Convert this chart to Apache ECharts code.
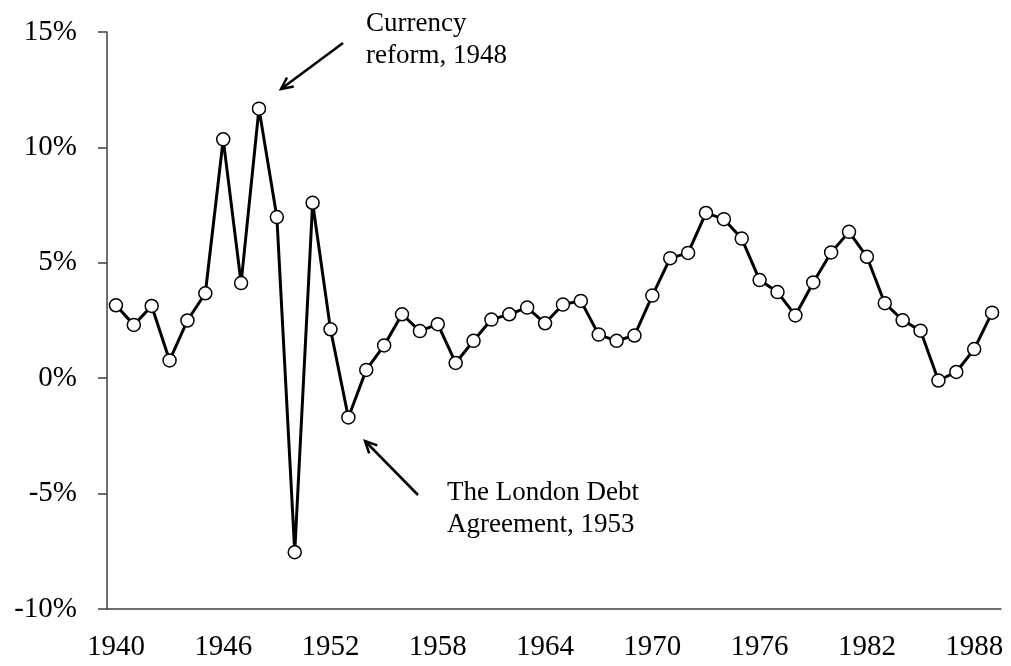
<!DOCTYPE html>
<html>
<head>
<meta charset="utf-8">
<script src="https://cdn.jsdelivr.net/npm/echarts@6/dist/echarts.min.js"></script>
<style>
  html, body { margin: 0; padding: 0; background: #fff; }
  #chart { width: 1011px; height: 666px; }
</style>
</head>
<body>
<div id="chart"></div>
<script>
// years on the category axis
const years = [];
for (let y = 1940; y <= 1989; y++) years.push(String(y));

// growth rate in %
const growth = [
  3.16, 2.31, 3.13, 0.77, 2.50, 3.68, 10.35, 4.12, 11.68, 6.98,
  -7.54, 7.60, 2.12, -1.70, 0.36, 1.42, 2.77, 2.04, 2.34, 0.66,
  1.62, 2.54, 2.77, 3.06, 2.38, 3.19, 3.35, 1.89, 1.62, 1.85,
  3.58, 5.20, 5.43, 7.16, 6.89, 6.05, 4.25, 3.73, 2.72, 4.15,
  5.45, 6.34, 5.26, 3.25, 2.51, 2.06, -0.10, 0.27, 1.26, 2.84
];

const yTicks = { min: -10, max: 15, step: 5 };

const noteReform = "Currency\nreform, 1948";
const noteLondon = "The London Debt\nAgreement, 1953";

const font = "'Liberation Serif', 'Times New Roman', serif";

// arrow = line + two short wings at the head
function arrow(x1, y1, x2, y2) {
  const ang = Math.atan2(y2 - y1, x2 - x1);
  const len = 13, spread = 0.45;
  const p1 = [x2 - len * Math.cos(ang - spread), y2 - len * Math.sin(ang - spread)];
  const p2 = [x2 - len * Math.cos(ang + spread), y2 - len * Math.sin(ang + spread)];
  const st = { stroke: "#000", lineWidth: 2.5 };
  return [
    { type: "line", shape: { x1: x1, y1: y1, x2: x2, y2: y2 }, style: st },
    { type: "polyline", shape: { points: [p1, [x2, y2], p2] }, style: st }
  ];
}

const chart = echarts.init(document.getElementById("chart"));

const option = {
  animation: false,
  grid: { left: 107, right: 10, top: 32, bottom: 57 },
  xAxis: {
    type: "category",
    data: years,
    boundaryGap: true,
    axisLine: { onZero: false, lineStyle: { color: "#404040", width: 1.5 } },
    axisTick: { interval: 5, length: 9, lineStyle: { color: "#404040", width: 1.5 } },
    axisLabel: {
      interval: 5,
      margin: 24,
      color: "#000",
      fontFamily: font,
      fontSize: 29
    }
  },
  yAxis: {
    type: "value",
    min: yTicks.min,
    max: yTicks.max,
    interval: yTicks.step,
    splitLine: { show: false },
    axisLine: { show: true, lineStyle: { color: "#404040", width: 1.5 } },
    axisTick: { show: true, length: 9, lineStyle: { color: "#404040", width: 1.5 } },
    axisLabel: {
      formatter: "{value}%",
      margin: 30,
      color: "#000",
      fontFamily: font,
      fontSize: 29
    }
  },
  series: [{
    type: "line",
    data: growth,
    symbol: "circle",
    symbolSize: 13,
    showAllSymbol: true,
    lineStyle: { color: "#000", width: 3 },
    itemStyle: { color: "#fff", borderColor: "#000", borderWidth: 1.5 }
  }],
  graphic: [
    {
      type: "text", left: 366, top: 8,
      style: { text: noteReform, font: "27px " + font, fill: "#000", lineHeight: 32 }
    },
    {
      type: "text", left: 447, top: 477,
      style: { text: noteLondon, font: "27px " + font, fill: "#000", lineHeight: 32 }
    },
    ...arrow(343, 43, 281, 89),
    ...arrow(418, 495, 365, 441)
  ]
};

chart.setOption(option);
</script>
</body>
</html>
